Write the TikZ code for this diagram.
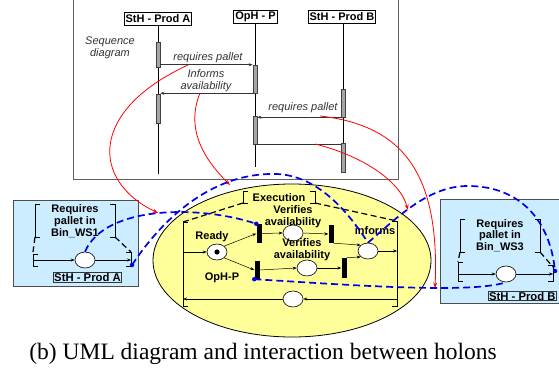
\documentclass[tikz,border=0pt]{standalone}
\usepackage{fontspec}
\setmainfont{Liberation Serif}
\setsansfont{Liberation Sans}
\usetikzlibrary{arrows.meta,shapes.geometric}
\definecolor{ellfill}{RGB}{255,255,153}
\definecolor{boxfill}{RGB}{204,236,255}
\definecolor{dblue}{RGB}{0,0,235}
\definecolor{framegray}{RGB}{95,95,95}
\definecolor{barfill}{RGB}{165,165,165}
\begin{document}
\begin{tikzpicture}[x=1pt,y=-1pt,
  lbl/.style={font=\sffamily\bfseries\fontsize{11}{11.8}\selectfont, align=center, inner sep=0pt},
  ital/.style={font=\sffamily\itshape\fontsize{11}{12}\selectfont, align=center, inner sep=0pt, text=black!80},
  lifebox/.style={draw=black, fill=white, line width=0.8pt, font=\sffamily\bfseries\fontsize{11}{12}\selectfont, inner sep=1.5pt, minimum height=13pt},
  smallbox/.style={draw=black!80, line width=0.8pt, font=\sffamily\bfseries\fontsize{11.3}{11}\selectfont, inner sep=0.6pt},
  actbar/.style={draw=black!75, fill=barfill, line width=0.5pt, minimum width=4pt, inner sep=0pt},
  place/.style={ellipse, draw=black, fill=white, line width=0.6pt, minimum width=20pt, minimum height=16pt, inner sep=0pt},
  trans/.style={rectangle, fill=black, minimum width=5pt, inner sep=0pt},
  pn/.style={line width=0.5pt, -{Stealth[length=4pt,width=3pt]}},
  brk/.style={line width=0.6pt},
  bdash/.style={line width=1.2pt, black, dash pattern=on 6pt off 3.5pt},
  bluedash/.style={dblue, line width=1.7pt, dash pattern=on 7pt off 4pt},
  redarr/.style={red, line width=0.8pt, -{Stealth[length=5.5pt,width=4pt]}},
  msg/.style={line width=0.6pt, black!80, -{Stealth[length=4pt,width=3pt]}},
  bdot/.style={circle, fill=dblue, inner sep=0pt, minimum size=4.5pt},
]
\useasboundingbox (0,0) rectangle (559,369);

% ---------- sequence diagram ----------
\draw[framegray, line width=0.9pt] (73,-5) -- (73,179) -- (398,179) -- (398,-5);

\node[lifebox] (lA) at (158,18.5) {StH - Prod A};
\node[lifebox] (lP) at (255.5,17) {OpH - P};
\node[lifebox] (lB) at (342,17) {StH - Prod B};
\coordinate (endA) at (158,174);
\coordinate (endP) at (255,167);
\coordinate (endB) at (343,172);
\draw[line width=0.6pt] (lA.south -| endA) -- (endA);
\draw[line width=0.6pt] (lP.south -| endP) -- (endP);
\draw[line width=0.6pt] (lB.south -| endB) -- (endB);

\node[actbar, minimum height=25pt] (aA1) at (158,54.5) {};
\node[actbar, minimum height=29pt] (aA2) at (158,108.5) {};
\node[actbar, minimum height=28pt] (aP1) at (255,79) {};
\node[actbar, minimum height=28pt] (aP2) at (255,130) {};
\node[actbar, minimum height=28pt] (aB1) at (343,103) {};
\node[actbar, minimum height=29pt] (aB2) at (343,157.5) {};

\draw[msg] (aA1.east |- aP1.north) -- (aP1.north west);
\draw[msg] (aP1.south west) -- (aP1.south west -| aA2.east);
\draw[msg] (aB1.south west) -- (aB1.south west -| aP2.east);
\draw[line width=0.6pt, black!80] (aP2.south east) -- (aP2.south east -| aB2.west);

\node[ital] (seqlbl) at (110,47.5) {Sequence\\diagram};
\node[ital] (m1lbl) at (208,58) {requires pallet};
\node[ital] (m2lbl) at (206,81) {Informs\\availability};
\node[ital] (m3lbl) at (303,108) {requires pallet};

% ---------- StH - Prod A box ----------
\node[draw=black!70, fill=boxfill, line width=0.7pt, minimum width=125pt, minimum height=86pt] (boxA) at (75.5,243) {};
\draw[brk] (40,204) -- (35,204) -- (35,237) -- (40,237);
\draw[brk] (110,204) -- (115,204) -- (115,237) -- (110,237);
\draw[bdash] (35,237) -- (33,252);
\draw[bdash] (115,237) -- (131,252);
\draw[brk] (38,254) -- (33,254) -- (33,266) -- (38,266);
\draw[brk] (126,252) -- (131,252) -- (131,266) -- (126,266);
\node[lbl] (txtA) at (75,221) {Requires\\pallet in\\Bin\_WS1};
\node[place] (cA) at (85,260) {};
\coordinate (inA) at (33,260);
\coordinate (outA) at (131,260);
\draw[pn] (inA) -- (cA.west);
\draw[pn] (cA.east) -- (outA);
\node[smallbox] (nameA) at (87.5,277.5) {StH - Prod A};

% ---------- StH - Prod B box ----------
\node[draw=black!70, fill=boxfill, line width=0.7pt, minimum width=130pt, minimum height=104pt] (boxB) at (505,251) {};
\draw[brk] (465,219) -- (460,219) -- (460,252) -- (465,252);
\draw[brk] (535,219) -- (540,219) -- (540,252) -- (535,252);
\draw[bdash] (460,252) -- (458,262);
\draw[bdash] (540,252) -- (554,268);
\draw[brk] (463,262) -- (458,262) -- (458,281) -- (463,281);
\draw[brk] (548,265) -- (553,265) -- (553,281) -- (548,281);
\node[lbl] (txtB) at (500,235.5) {Requires\\pallet in\\Bin\_WS3};
\node[place] (cB) at (506,274) {};
\coordinate (inB) at (458,274);
\coordinate (outB) at (553,274);
\draw[pn] (inB) -- (cB.west);
\draw[pn] (cB.east) -- (outB);
\node[smallbox, anchor=west] (nameB) at (488,296) {StH - Prod B};

% ---------- OpH-P ellipse ----------
\node[ellipse, draw=black, fill=ellfill, line width=0.8pt, minimum width=278pt, minimum height=153pt, inner sep=0pt] (opell) at (292,260.5) {};
\draw[brk] (248,191) -- (243,191) -- (243,203) -- (248,203);
\draw[brk] (310,191) -- (315,191) -- (315,203) -- (310,203);
\node[lbl] (exe) at (279,198) {Execution};
\draw[bdash] (243,203) -- (183,222);
\draw[bdash] (315,203) -- (397,221);
\draw[brk] (188,222) -- (183,222) -- (183,306) -- (188,306);
\draw[brk] (392,221) -- (397,221) -- (397,306) -- (392,306);

\node[place] (ready) at (217,252) {};
\fill (ready.center) circle (2.6pt);
\node[place] (p1) at (293,233) {};
\node[place] (p2) at (307,268) {};
\node[place] (inf) at (368,251) {};
\node[place] (pb) at (293,299) {};
\node[trans, minimum height=19pt] (t1) at (259,233.5) {};
\node[trans, minimum height=18pt] (t2) at (257,270) {};
\node[trans, minimum height=18pt] (t3) at (331,234) {};
\node[trans, minimum height=20pt] (t4) at (344,268) {};

\coordinate (inL) at (183,252);
\coordinate (outR) at (397,251);
\coordinate (inR) at (397,299);
\coordinate (outL) at (183,299);
\draw[pn] (inL) -- (ready.west);
\draw[pn] (ready.north east) -- (t1.west);
\draw[pn] (ready.south east) -- (t2.west);
\draw[pn] (t1.east) -- (p1.west);
\draw[pn] (p1.east) -- (t3.west);
\draw[pn] (t2.east) -- (p2.west);
\draw[pn] (p2.east) -- (t4.west);
\draw[pn] (t3.south east) -- (inf.north west);
\draw[pn] (t4.north east) -- (inf.south west);
\draw[pn] (inf.east) -- (outR);
\draw[pn] (inR) -- (pb.east);
\draw[pn] (pb.west) -- (outL);

\node[lbl] (rdy) at (212,237) {Ready};
\node[lbl] (v1) at (293,216.5) {Verifies\\availability};
\node[lbl] (v2) at (302,250) {Verifies\\availability};
\node[lbl] (infl) at (375,231) {informs};
\node[lbl] (oph) at (222,278) {OpH-P};

% ---------- red links ----------
\coordinate (r1s) at (188,65);
\coordinate (r2s) at (200,93);
\coordinate (r3s) at (315,144);
\coordinate (r4s) at (320,116);
\coordinate (r1e) at (158,213);
\coordinate (r2e) at (230,185);
\coordinate (r3e) at (408,210);
\coordinate (r4e) at (435,288);
\draw[redarr] (r1s) .. controls (90,110) and (90,180) .. (r1e);
\draw[redarr] (r2s) .. controls (185,130) and (205,160) .. (r2e);
\draw[redarr] (r3s) .. controls (360,155) and (400,180) .. (r3e);
\draw[redarr] (r4s) .. controls (400,125) and (440,170) .. (r4e);

% ---------- blue interactions ----------
\coordinate (dotL) at (132,265);
\coordinate (dotR) at (555,271);
\draw[bluedash] (cA.north) .. controls (105,205) and (200,205) .. (t1.north west);
\draw[bluedash] (dotL) .. controls (165,215) and (215,172) .. (277,174)
   .. controls (320,176) and (350,215) .. (inf.north);
\draw[bluedash] (inf.north) .. controls (400,215) and (430,185) .. (470,186)
   .. controls (520,187) and (550,220) .. (dotR);
\draw[bluedash] (t2.south west) .. controls (350,285) and (470,294) .. (cB.south);
\node[bdot] (d1) at (dotL) {};
\node[bdot] (d2) at (dotR) {};
\node[bdot] (d3) at (t1.north west) {};
\node[bdot] (d4) at (t2.south west) {};

% ---------- caption ----------
\node[font=\fontsize{23.5}{28}\selectfont, anchor=base, inner sep=0pt] (cap) at (263,359) {(b) UML diagram and interaction between holons};
\end{tikzpicture}
\end{document}
